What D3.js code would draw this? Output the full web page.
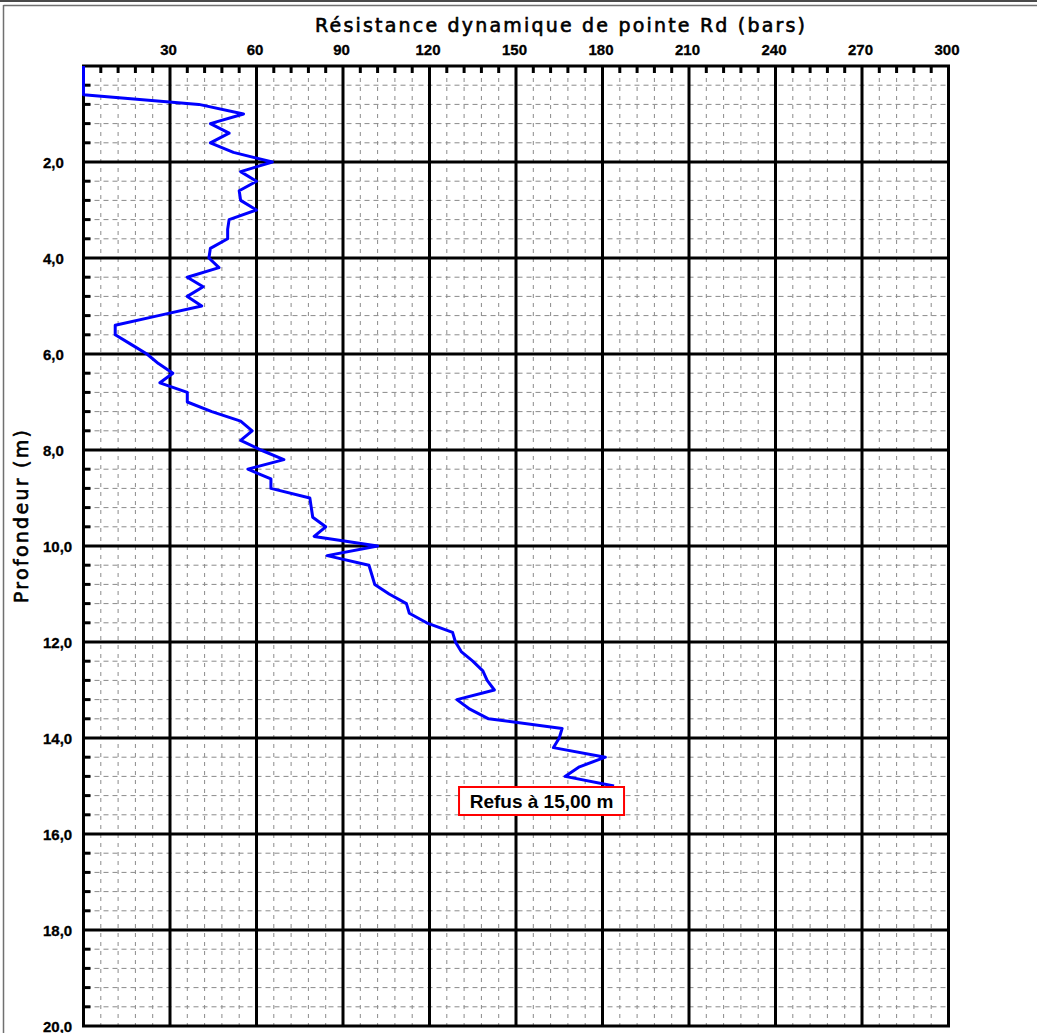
<!DOCTYPE html>
<html>
<head>
<meta charset="utf-8">
<title>Pénétromètre dynamique</title>
<script src="https://cdn.jsdelivr.net/npm/d3@7/dist/d3.min.js"></script>
<style>
  html, body { margin: 0; padding: 0; background: #ffffff; }
  svg { display: block; }
</style>
</head>
<body>
<svg id="chart" width="1037" height="1033"></svg>
<script>
// Penetration profile: depth (m) against dynamic point resistance Rd (bars)
const depths = [
  0.0, 0.2, 0.4, 0.6, 0.8, 1.0, 1.2, 1.4, 1.6, 1.8,
  2.0, 2.2, 2.4, 2.6, 2.8, 3.0, 3.2, 3.4, 3.6, 3.8,
  4.0, 4.2, 4.4, 4.6, 4.8, 5.0, 5.2, 5.4, 5.6, 5.8,
  6.0, 6.2, 6.4, 6.6, 6.8, 7.0, 7.2, 7.4, 7.6, 7.8,
  8.0, 8.2, 8.4, 8.6, 8.8, 9.0, 9.2, 9.4, 9.6, 9.8,
  10.0, 10.2, 10.4, 10.6, 10.8, 11.0, 11.2, 11.4, 11.6, 11.8,
  12.0, 12.2, 12.4, 12.6, 12.8, 13.0, 13.2, 13.4, 13.6, 13.8,
  14.0, 14.2, 14.4, 14.6, 14.8, 15.0
];
const resistance = [
  0, 0, 0, 0, 40, 55.5, 44, 50.5, 44, 52,
  65.5, 54.5, 60, 54, 54.5, 60, 50.5, 50, 50, 44,
  43.5, 47, 36, 41.5, 36, 41, 26, 11, 11, 16.5,
  22, 26, 31, 26.5, 36, 36, 44.5, 54.5, 58.5, 54.5,
  61.5, 69.5, 57, 65, 65, 78.5, 79, 79.5, 84, 80,
  102, 84.5, 99, 100, 101, 106, 112, 113, 119, 128,
  129, 131, 135, 138.5, 140, 142.5, 129.5, 134, 140.5, 166,
  165, 163, 181, 172, 167, 184
];
const xTicks = [30, 60, 90, 120, 150, 180, 210, 240, 270, 300];
const yTicks = [2, 4, 6, 8, 10, 12, 14, 16, 18, 20];
const xTitle = "Résistance dynamique de pointe Rd (bars)";
const yTitle = "Profondeur (m)";
const refusalDepth = 15.0;
const refusalLabel = "Refus à 15,00 m";

const svg = d3.select("#chart");
const W = 1037, H = 1033;
const plot = { left: 83.5, right: 948.5, top: 66, bottom: 1026 };

const x = d3.scaleLinear().domain([0, 300]).range([plot.left, plot.right]);
const y = d3.scaleLinear().domain([0, 20]).range([plot.top, plot.bottom]);

// window frame
svg.append("rect").attr("x", 0).attr("y", 0).attr("width", W).attr("height", H).attr("fill", "#ffffff");
svg.append("line").attr("x1", 0).attr("x2", W).attr("y1", 1).attr("y2", 1)
  .attr("stroke", "#4a4a4a").attr("stroke-width", 2);
svg.append("line").attr("x1", 3.5).attr("x2", W).attr("y1", 5.5).attr("y2", 5.5)
  .attr("stroke", "#707070").attr("stroke-width", 1.5);
svg.append("line").attr("x1", 3.5).attr("x2", 3.5).attr("y1", 5).attr("y2", H)
  .attr("stroke", "#707070").attr("stroke-width", 1.5);

const g = svg.append("g");

// minor dashed grid
const xMinor = d3.range(6, 300, 6).filter(v => v % 30 !== 0);
const yMinor = d3.range(1, 50).map(i => +(i * 0.4).toFixed(1)).filter(v => Math.abs(v / 2 - Math.round(v / 2)) > 1e-6);

g.append("g").selectAll("line").data(xMinor).join("line")
  .attr("x1", d => x(d)).attr("x2", d => x(d))
  .attr("y1", plot.top).attr("y2", plot.bottom)
  .attr("stroke", "#8a8a8a").attr("stroke-width", 1)
  .attr("stroke-dasharray", "4,5").attr("stroke-dashoffset", -3);

g.append("g").selectAll("line").data(yMinor).join("line")
  .attr("x1", plot.left).attr("x2", plot.right)
  .attr("y1", d => y(d)).attr("y2", d => y(d))
  .attr("stroke", "#8a8a8a").attr("stroke-width", 1)
  .attr("stroke-dasharray", "5,4").attr("stroke-dashoffset", -2);

// major grid
g.append("g").selectAll("line").data(xTicks.filter(v => v < 300)).join("line")
  .attr("x1", d => x(d)).attr("x2", d => x(d))
  .attr("y1", plot.top).attr("y2", plot.bottom)
  .attr("stroke", "#000").attr("stroke-width", 3);
g.append("g").selectAll("line").data(yTicks.filter(v => v < 20)).join("line")
  .attr("x1", plot.left).attr("x2", plot.right)
  .attr("y1", d => y(d)).attr("y2", d => y(d))
  .attr("stroke", "#000").attr("stroke-width", 3);

// minor tick marks on the top and left edges
g.append("g").selectAll("line").data(xMinor).join("line")
  .attr("x1", d => x(d)).attr("x2", d => x(d))
  .attr("y1", plot.top).attr("y2", plot.top + 7)
  .attr("stroke", "#000").attr("stroke-width", 3);
g.append("g").selectAll("line").data(yMinor).join("line")
  .attr("x1", plot.left).attr("x2", plot.left + 7)
  .attr("y1", d => y(d)).attr("y2", d => y(d))
  .attr("stroke", "#000").attr("stroke-width", 3);

// plot border
g.append("rect")
  .attr("x", plot.left).attr("y", plot.top)
  .attr("width", plot.right - plot.left).attr("height", plot.bottom - plot.top)
  .attr("fill", "none").attr("stroke", "#000").attr("stroke-width", 3);

// top axis labels
const xAxis = d3.axisTop(x).tickValues(xTicks).tickSize(0).tickPadding(11).tickFormat(d3.format("d"));
const xAx = svg.append("g").attr("transform", `translate(-2,${plot.top})`).call(xAxis);
xAx.select(".domain").remove();
xAx.selectAll("text")
  .attr("font-family", "'Liberation Sans', Arial, sans-serif")
  .attr("font-weight", "bold").attr("font-size", 15).attr("fill", "#000")
  .attr("stroke", "#000").attr("stroke-width", 0.3)
  .attr("letter-spacing", 0);

// left axis labels (left-aligned, comma decimal)
const yAxis = d3.axisLeft(y).tickValues(yTicks).tickSize(0).tickPadding(0)
  .tickFormat(d => d.toFixed(1).replace(".", ","));
const yAx = svg.append("g").attr("transform", "translate(43,0)").call(yAxis);
yAx.select(".domain").remove();
yAx.selectAll("text")
  .attr("text-anchor", "start").attr("x", 0).attr("dy", "0.34em")
  .attr("font-family", "'Liberation Sans', Arial, sans-serif")
  .attr("font-weight", "bold").attr("font-size", 15).attr("fill", "#000")
  .attr("stroke", "#000").attr("stroke-width", 0.3);

// titles
svg.append("text")
  .attr("x", 315).attr("y", 32)
  .attr("textLength", 490).attr("lengthAdjust", "spacing")
  .attr("font-family", "'DejaVu Sans', Verdana, sans-serif")
  .attr("font-size", 19).attr("fill", "#000")
  .attr("stroke", "#000").attr("stroke-width", 0.6)
  .text(xTitle);

svg.append("text")
  .attr("transform", "translate(28,603) rotate(-90)")
  .attr("x", 0).attr("y", 0)
  .attr("textLength", 173).attr("lengthAdjust", "spacing")
  .attr("font-family", "'DejaVu Sans', Verdana, sans-serif")
  .attr("font-size", 19).attr("fill", "#000")
  .attr("stroke", "#000").attr("stroke-width", 0.6)
  .text(yTitle);

// resistance profile
const profile = depths.map((d, i) => ({ depth: d, rd: resistance[i] }));
const line = d3.line().x(d => x(d.rd)).y(d => y(d.depth));
svg.append("path")
  .datum(profile)
  .attr("d", line)
  .attr("fill", "none")
  .attr("stroke", "#0000ff")
  .attr("stroke-width", 3)
  .attr("stroke-linejoin", "round");

// refusal label
const last = profile[profile.length - 1];
const boxW = 165, boxH = 28;
const boxRight = x(last.rd) + 10;
const boxTop = y(refusalDepth) + 1;
const lab = svg.append("g");
lab.append("rect")
  .attr("x", boxRight - boxW).attr("y", boxTop)
  .attr("width", boxW).attr("height", boxH)
  .attr("fill", "#ffffff").attr("stroke", "#ff0000").attr("stroke-width", 2);
lab.append("text")
  .attr("x", boxRight - boxW / 2).attr("y", boxTop + 21)
  .attr("text-anchor", "middle")
  .attr("font-family", "'Liberation Sans', Arial, sans-serif")
  .attr("font-weight", "bold").attr("font-size", 19).attr("fill", "#000")
  .text(refusalLabel);
</script>
</body>
</html>
